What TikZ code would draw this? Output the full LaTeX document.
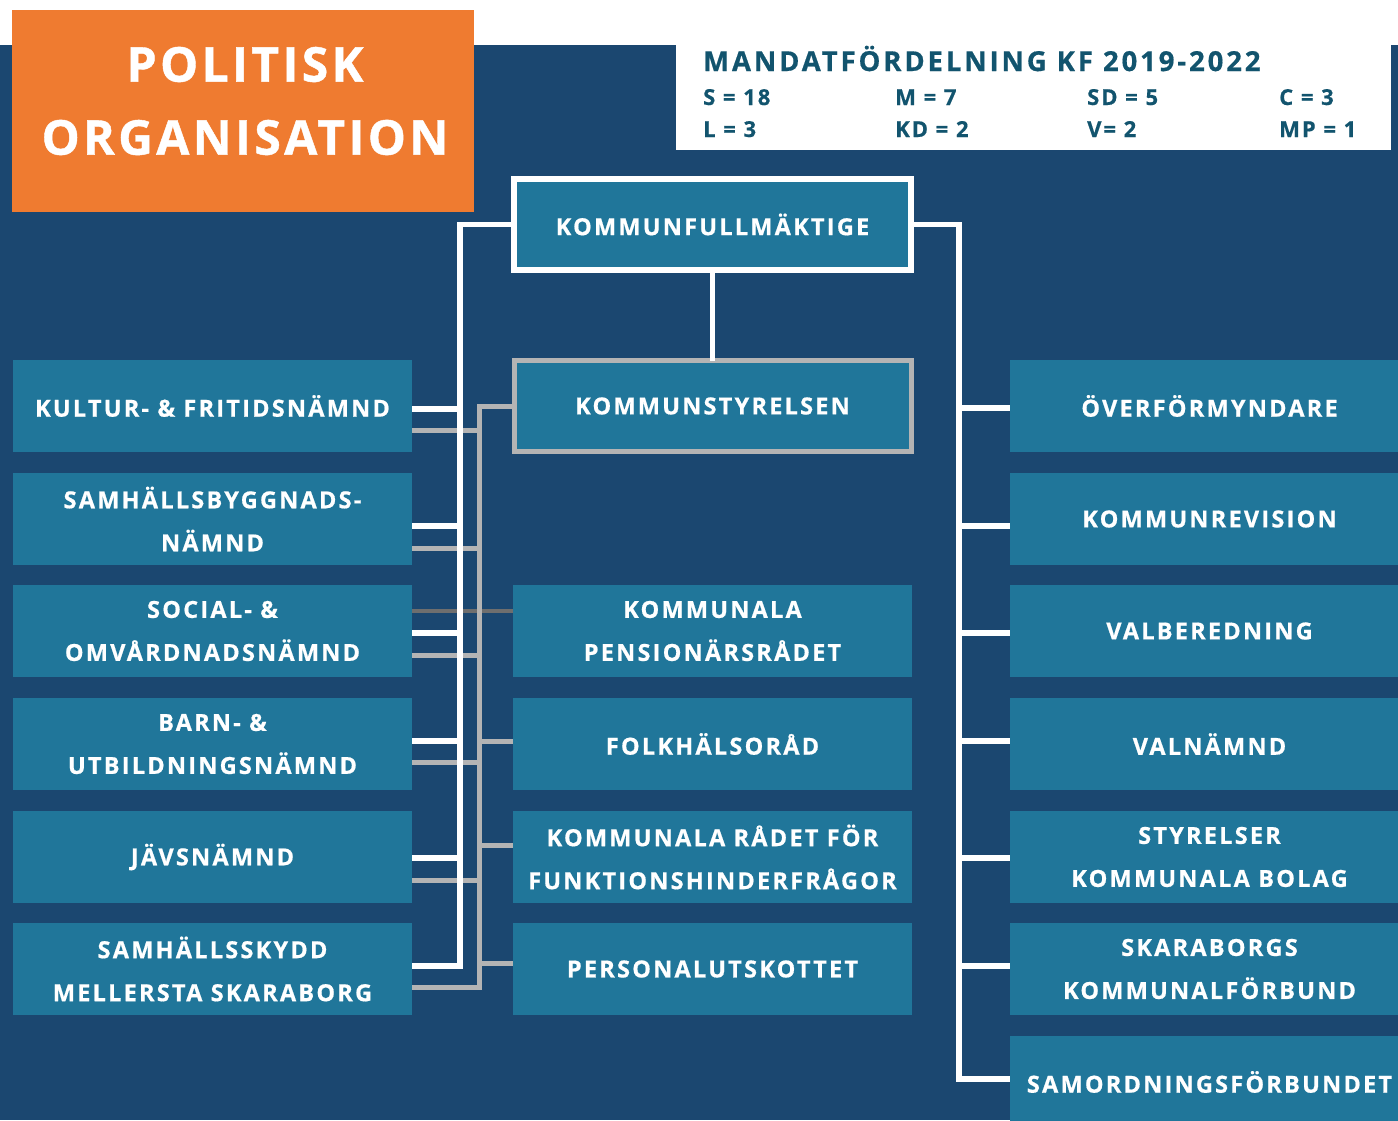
\documentclass[tikz,border=0pt]{standalone}
\usepackage{fontspec}
\setmainfont{Open Sans}
\newfontfamily\lblfam{Open Sans}[LetterSpace=9.5, BoldFeatures={FakeBold=0.7}]
\newfontfamily\ttlfam{Open Sans}[LetterSpace=7, BoldFeatures={FakeBold=0.9}]
\newfontfamily\infofam{Open Sans}[LetterSpace=9, BoldFeatures={FakeBold=0.5}]
\newfontfamily\infottlfam{Open Sans}[LetterSpace=10.5, BoldFeatures={FakeBold=0.6}]
\definecolor{bg}{HTML}{1B4770}
\definecolor{boxc}{HTML}{20769A}
\definecolor{org}{HTML}{EF7B30}
\definecolor{glc}{HTML}{B4B4B4}
\definecolor{dgl}{HTML}{6E6E6E}
\definecolor{infot}{HTML}{12546E}
\newcommand\lblfont{\lblfam\fontsize{23.5}{43}\selectfont\bfseries}
\begin{document}
\begin{tikzpicture}[x=1pt,y=-1pt,
  unit/.style={fill=boxc, inner sep=0pt, outer sep=0pt, anchor=north west,
    minimum width=399pt, minimum height=92pt, text=white, font=\lblfont, align=center},
  framed/.style={fill=boxc, inner sep=0pt, outer sep=0pt, minimum width=397pt,
    minimum height=91pt, text=white, font=\lblfont, line width=5.5pt},
  wline/.style={draw=white, line width=5.5pt},
  gline/.style={draw=glc, line width=5pt},
  dline/.style={draw=dgl, line width=4.5pt},
  info/.style={text=infot, anchor=base west, inner sep=0pt, font=\infofam\fontsize{22}{26}\selectfont\bfseries}
]
\clip (0,0) rectangle (1398,1120);
\fill[white] (0,0) rectangle (1398,1120);
\fill[bg] (0,45) rectangle (1398,1120);
\fill[white] (676,45) rectangle (1391,150);

% title
\node[fill=org, inner sep=0pt, minimum width=462pt, minimum height=202pt, anchor=north west] (title) at (12,10) {};
\node[text=white, align=center, font=\ttlfam\fontsize{48}{73}\selectfont\bfseries] (titletext) at (245,101) {POLITISK\\ORGANISATION};

% mandate info
\node[info, font=\infottlfam\fontsize{27.5}{30}\selectfont\bfseries] (mtitle) at (703,71) {MANDATFÖRDELNING KF 2019-2022};
\node[info] (m1) at (703,105) {S = 18};
\node[info] (m2) at (895,105) {M = 7};
\node[info] (m3) at (1087,105) {SD = 5};
\node[info] (m4) at (1279,105) {C = 3};
\node[info] (m5) at (703,137) {L = 3};
\node[info] (m6) at (895,137) {KD = 2};
\node[info] (m7) at (1087,137) {V= 2};
\node[info] (m8) at (1279,137) {MP = 1};

% left column
\node[unit] (kultur) at (13,360) {KULTUR- \& FRITIDSNÄMND};
\node[unit] (sbn) at (13,473) {SAMHÄLLSBYGGNADS-\\NÄMND};
\node[unit] (soc) at (13,585) {SOCIAL- \&\\OMVÅRDNADSNÄMND};
\node[unit] (barn) at (13,698) {BARN- \&\\UTBILDNINGSNÄMND};
\node[unit] (jav) at (13,811) {JÄVSNÄMND};
\node[unit] (ssk) at (13,923) {SAMHÄLLSSKYDD\\MELLERSTA SKARABORG};

% middle column
\node[unit] (pens) at (513,585) {KOMMUNALA\\PENSIONÄRSRÅDET};
\node[unit] (folk) at (513,698) {FOLKHÄLSORÅD};
\node[unit] (func) at (513,811) {KOMMUNALA RÅDET FÖR\\FUNKTIONSHINDERFRÅGOR};
\node[unit] (pers) at (513,923) {PERSONALUTSKOTTET};

% right column
\node[unit] (ofm) at (1010,360) {ÖVERFÖRMYNDARE};
\node[unit] (rev) at (1010,473) {KOMMUNREVISION};
\node[unit] (valb) at (1010,585) {VALBEREDNING};
\node[unit] (valn) at (1010,698) {VALNÄMND};
\node[unit] (bolag) at (1010,811) {STYRELSER\\KOMMUNALA BOLAG};
\node[unit] (skkf) at (1010,923) {SKARABORGS\\KOMMUNALFÖRBUND};
\node[unit] (samf) at (1010,1036) {SAMORDNINGSFÖRBUNDET};

% trunk coordinates
\coordinate (wx) at (460,0);
\coordinate (gx) at (479,0);
\coordinate (rx) at (959,0);

% connectors: dark line
\draw[dline] (soc.east |- 0,611) -- (pens.west |- 0,611);

% grey lines (Kommunstyrelsen)
\node[framed, draw=glc, line width=5pt] (ks) at (712.5,406) {KOMMUNSTYRELSEN};
\draw[gline] (ks.west) -| (gx |- 0,987) -- (ssk.east |- 0,987);
\foreach \n/\yy in {kultur/430, sbn/548, soc/655, barn/762, jav/880}
  \draw[gline] (\n.east |- 0,\yy) -- (gx |- 0,\yy);
\foreach \n/\yy in {folk/741, func/845, pers/963}
  \draw[gline] (gx |- 0,\yy) -- (\n.west |- 0,\yy);

% white lines (Kommunfullmäktige)
\node[framed, draw=white] (kf) at (712.5,224.5) {KOMMUNFULLMÄKTIGE};
\draw[wline] (kf.south) -- (ks.north);
\draw[wline] (kf.west) -| (wx |- 0,966) -- (ssk.east |- 0,966);
\foreach \n/\yy in {kultur/409, sbn/526, soc/633, barn/741, jav/858}
  \draw[wline] (\n.east |- 0,\yy) -- (wx |- 0,\yy);
\draw[wline] (kf.east) -| (rx |- 0,1079) -- (samf.west |- 0,1079);
\foreach \n/\yy in {ofm/408, rev/526, valb/633, valn/741, bolag/858, skkf/966}
  \draw[wline] (rx |- 0,\yy) -- (\n.west |- 0,\yy);
\end{tikzpicture}
\end{document}
